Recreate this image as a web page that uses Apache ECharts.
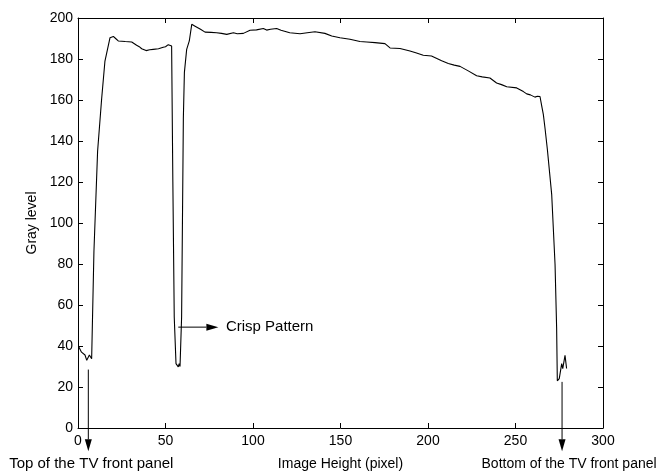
<!DOCTYPE html>
<html>
<head>
<meta charset="utf-8">
<script src="https://cdn.jsdelivr.net/npm/echarts@6/dist/echarts.min.js"></script>
<style>
html,body{margin:0;padding:0;background:#fff;}
#chart{width:657px;height:476px;}
</style>
</head>
<body>
<div id="chart"></div>
<script>
// Profile data: image row (pixel) vs gray level
const rowPos = [0.5,2,4,5,6.5,7.8,9.1,11.2,13.5,15.4,17.9,18.3,20.2,21.5,23,24,27,30.7,33.5,35,36.4,38.9,41,43,46,48.7,50,51.6,53.5,53.9,
  54.2,55,56,56.8,57.3,57.8,58.3,59.2,60.2,60.8,62.1,63.6,65,66.9,67.8,70,72.6,76,79.2,82,85,88.8,91,94.5,98.3,102,105.9,107.8,110,113.5,116,
  121,126.9,131,135.4,141.1,145,149.7,155.4,161.1,165,169.7,175.4,178.3,184,189.7,193,197.3,202,207.8,211.6,215,218.3,223,227.8,231,235.4,
  239.2,242,245,250.7,254.5,256.4,258.5,261.1,262.5,264,265,265.9,266.9,268.2,270.7,272.6,273.5,273.9,275,276.4,277,278.3,279.2];
const grayLevel = [39.5,37,35.6,33,35.6,33.8,86,135,160.5,179,188.8,190.4,191,190,188.8,188.5,188.5,188.3,186.7,186,185,184.1,184.5,184.7,185,185.7,186,187,186.3,186,
  120,54,31.4,32,29.8,31.4,30,54,150.8,173.5,184.7,188.8,196.9,196,196,194.5,193.1,193,192.8,192.5,192,192.8,192.3,192.5,194,194.2,194.9,194.1,194.5,194.9,194,
  192.8,192.3,192.8,193.3,192.5,191.2,190.4,189.6,188.5,188.3,188,187.5,185.4,185.1,183.9,183,181.8,181.5,179.1,177.8,177,176.4,174.2,171.8,171.3,170.7,
  168.3,167.5,166.5,165.9,164.1,163,162.5,161.4,161.8,161.7,157,153,146,136,113.7,79.8,49,23,24.1,31.4,29,35.4,29];

// Axis ticks
const xTicks = [0, 50, 100, 150, 200, 250, 300];
const yTicks = [0, 20, 40, 60, 80, 100, 120, 140, 160, 180, 200];

// Annotation arrows (data coordinates: start x, start y, end x, end y)
const arrowStartX = [5.9, 57.3, 276.6];
const arrowStartY = [28.5, 49.2, 22.5];
const arrowEndX = [5.9, 80.2, 276.6];
const arrowEndY = [-11.4, 49.2, -11.4];

// Annotation texts
const noteTexts = ['Top of the TV front panel', 'Crisp Pattern', 'Bottom of the TV front panel'];
const noteX = [7.6, 84.5, 280.6];
const noteY = [-17.7, 49.2, -17.7];
const noteAlign = ['center', 'left', 'center'];
const noteSize = [15, 15, 14];

const FONT = 'Liberation Sans, Arial, Helvetica, sans-serif';
const FS = 14;

const lineData = rowPos.map((x, i) => [x, grayLevel[i]]);
const arrowData = arrowStartX.map((x, i) => [x, arrowStartY[i], arrowEndX[i], arrowEndY[i]]);
const noteData = noteX.map((x, i) => [x, noteY[i]]);

const chart = echarts.init(document.getElementById('chart'), null, {renderer: 'canvas'});

const baseAxis = {
  axisLine: {show: true, onZero: false, lineStyle: {color: '#000', width: 1}},
  axisTick: {show: true, inside: true, length: 5, lineStyle: {color: '#000', width: 1}},
  splitLine: {show: false},
};

chart.setOption({
  animation: false,
  backgroundColor: '#fff',
  grid: {left: 78, right: 54, top: 18, bottom: 44.5, containLabel: false},
  xAxis: [
    Object.assign({}, baseAxis, {
      type: 'value', min: xTicks[0], max: xTicks[xTicks.length - 1], interval: xTicks[1] - xTicks[0],
      position: 'bottom',
      axisLabel: {color: '#000', fontSize: FS, fontFamily: FONT, margin: 6},
      name: 'Image Height (pixel)', nameLocation: 'middle', nameGap: 29,
      nameTextStyle: {color: '#000', fontSize: FS, fontFamily: FONT}
    }),
    Object.assign({}, baseAxis, {
      type: 'value', min: xTicks[0], max: xTicks[xTicks.length - 1], interval: xTicks[1] - xTicks[0],
      position: 'top', axisLabel: {show: false}
    })
  ],
  yAxis: [
    Object.assign({}, baseAxis, {
      type: 'value', min: yTicks[0], max: yTicks[yTicks.length - 1], interval: yTicks[1] - yTicks[0],
      position: 'left',
      axisLabel: {color: '#000', fontSize: FS, fontFamily: FONT, margin: 5},
      name: 'Gray level', nameLocation: 'middle', nameGap: 37, nameRotate: 90,
      nameTextStyle: {color: '#000', fontSize: FS, fontFamily: FONT}
    }),
    Object.assign({}, baseAxis, {
      type: 'value', min: yTicks[0], max: yTicks[yTicks.length - 1], interval: yTicks[1] - yTicks[0],
      position: 'right', axisLabel: {show: false}
    })
  ],
  series: [
    {
      type: 'line', data: lineData, showSymbol: false, symbol: 'none',
      lineStyle: {color: '#000', width: 1.1}, xAxisIndex: 0, yAxisIndex: 0, z: 3
    },
    {
      type: 'custom', clip: false, xAxisIndex: 0, yAxisIndex: 0,
      encode: {x: [0, 2], y: [1, 3]},
      data: arrowData,
      z: 4,
      renderItem: function (params, api) {
        const p1 = api.coord([api.value(0), api.value(1)]);
        const p2 = api.coord([api.value(2), api.value(3)]);
        const dx = p2[0] - p1[0], dy = p2[1] - p1[1];
        const len = Math.sqrt(dx * dx + dy * dy);
        const ux = dx / len, uy = dy / len;
        const headL = 12, headW = 3.5;
        const bx = p2[0] - ux * headL, by = p2[1] - uy * headL;
        const nx = -uy, ny = ux;
        return {
          type: 'group',
          children: [
            {type: 'line', shape: {x1: p1[0], y1: p1[1], x2: bx, y2: by},
             style: {stroke: '#000', lineWidth: 1}},
            {type: 'polygon', shape: {points: [[p2[0], p2[1]], [bx + nx * headW, by + ny * headW], [bx - nx * headW, by - ny * headW]]},
             style: {fill: '#000'}}
          ]
        };
      }
    },
    {
      type: 'custom', clip: false, xAxisIndex: 0, yAxisIndex: 0,
      data: noteData,
      z: 4,
      renderItem: function (params, api) {
        const p = api.coord([api.value(0), api.value(1)]);
        const i = params.dataIndex;
        return {
          type: 'text',
          x: p[0], y: p[1],
          style: {text: noteTexts[i], fill: '#000', font: noteSize[i] + 'px ' + FONT,
                  align: noteAlign[i], verticalAlign: 'middle'}
        };
      }
    }
  ]
});
</script>
</body>
</html>
